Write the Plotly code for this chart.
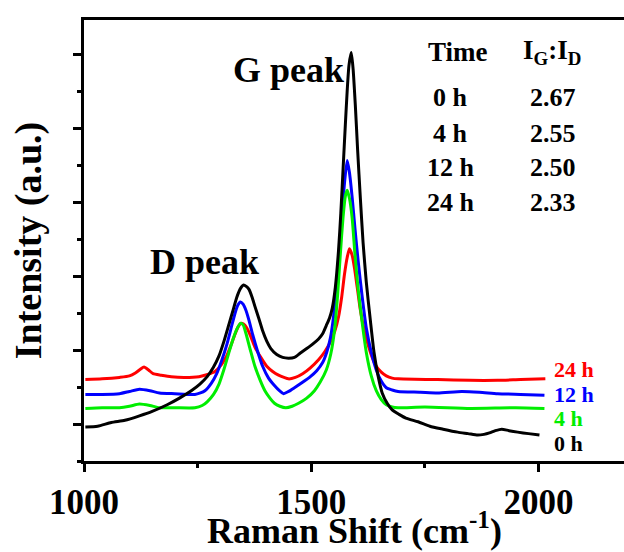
import plotly.graph_objects as go

# Raman shift (cm^-1) and intensity (a.u., arbitrary offset units)
x_0h = [1003, 1030, 1060, 1090, 1122, 1150, 1183, 1210, 1236, 1255, 1271, 1285, 1297, 1308, 1319, 1328, 1336, 1344, 1351,
        1357, 1363, 1370, 1376, 1385, 1393, 1402, 1411, 1424, 1437, 1450, 1463, 1476, 1490, 1503, 1516, 1525, 1533, 1540,
        1546, 1553, 1560, 1565, 1570, 1575, 1579, 1583, 1588, 1592, 1597, 1602, 1608, 1614, 1621, 1630, 1638, 1647, 1656,
        1667, 1678, 1693, 1708, 1735, 1761, 1790, 1822, 1845, 1866, 1880, 1892, 1905, 1919, 1935, 1954, 1978, 2002]
y_0h = [0.46, 0.47, 0.52, 0.55, 0.61, 0.67, 0.76, 0.85, 0.95, 1.04, 1.14, 1.27, 1.42, 1.62, 1.85, 2.04, 2.21, 2.33, 2.38,
        2.36, 2.32, 2.21, 2.09, 1.92, 1.76, 1.62, 1.52, 1.44, 1.40, 1.39, 1.40, 1.46, 1.52, 1.58, 1.65, 1.72, 1.83, 1.93,
        2.06, 2.35, 2.85, 3.35, 3.95, 4.55, 5.00, 5.35, 5.52, 5.30, 4.80, 4.20, 3.55, 2.95, 2.42, 1.90, 1.47, 1.15, 0.92,
        0.78, 0.69, 0.63, 0.58, 0.53, 0.47, 0.43, 0.39, 0.37, 0.35, 0.36, 0.38, 0.41, 0.43, 0.41, 0.39, 0.37, 0.35]

x_4h = [1003, 1040, 1078, 1100, 1122, 1145, 1166, 1200, 1244, 1260, 1271, 1285, 1297, 1308, 1319, 1328, 1336, 1344, 1350,
        1356, 1366, 1376, 1387, 1398, 1409, 1419, 1431, 1444, 1458, 1472, 1490, 1507, 1520, 1533, 1543, 1551, 1558, 1564,
        1570, 1575, 1579, 1584, 1590, 1596, 1603, 1612, 1621, 1632, 1643, 1654, 1665, 1678, 1691, 1750, 1850, 1950, 2013]
y_4h = [0.71, 0.72, 0.72, 0.74, 0.77, 0.75, 0.72, 0.72, 0.72, 0.75, 0.80, 0.90, 1.04, 1.24, 1.47, 1.65, 1.78, 1.86, 1.84,
        1.73, 1.50, 1.28, 1.10, 0.95, 0.85, 0.78, 0.74, 0.72, 0.74, 0.78, 0.85, 0.95, 1.07, 1.23, 1.45, 1.76, 2.25, 2.80,
        3.30, 3.58, 3.66, 3.55, 3.28, 2.80, 2.33, 1.87, 1.47, 1.15, 0.95, 0.83, 0.76, 0.73, 0.72, 0.73, 0.71, 0.72, 0.71]

x_12h = [1003, 1040, 1078, 1100, 1122, 1145, 1166, 1200, 1244, 1256, 1266, 1280, 1292, 1303, 1314, 1323, 1332, 1338, 1344,
         1350, 1356, 1363, 1371, 1382, 1393, 1406, 1419, 1430, 1439, 1450, 1463, 1480, 1498, 1512, 1525, 1534, 1542, 1549,
         1555, 1561, 1567, 1573, 1579, 1584, 1590, 1596, 1603, 1612, 1621, 1632, 1643, 1654, 1665, 1678, 1691, 1740, 1778,
         1831, 1870, 1910, 1960, 2013]
y_12h = [0.90, 0.90, 0.91, 0.94, 0.97, 0.95, 0.92, 0.91, 0.90, 0.92, 0.95, 1.05, 1.18, 1.36, 1.57, 1.78, 1.99, 2.10, 2.15,
         2.12, 2.04, 1.90, 1.71, 1.48, 1.28, 1.12, 1.02, 0.95, 0.91, 0.94, 0.99, 1.06, 1.14, 1.22, 1.33, 1.47, 1.66, 1.95,
         2.33, 2.80, 3.28, 3.75, 4.06, 3.90, 3.56, 3.15, 2.71, 2.22, 1.80, 1.47, 1.23, 1.08, 0.99, 0.96, 0.94, 0.93, 0.92,
         0.94, 0.93, 0.91, 0.90, 0.89]

x_24h = [1003, 1040, 1078, 1100, 1113, 1124, 1132, 1142, 1152, 1170, 1192, 1220, 1253, 1272, 1288, 1302, 1314, 1323, 1332,
         1339, 1345, 1351, 1358, 1367, 1376, 1389, 1402, 1415, 1428, 1440, 1450, 1465, 1481, 1498, 1516, 1530, 1542, 1552,
         1560, 1567, 1573, 1579, 1584, 1590, 1595, 1601, 1608, 1616, 1625, 1634, 1643, 1654, 1665, 1678, 1691, 1778, 1850,
         1910, 1960, 2015]
y_24h = [1.10, 1.11, 1.13, 1.15, 1.19, 1.24, 1.27, 1.23, 1.18, 1.16, 1.14, 1.13, 1.14, 1.17, 1.21, 1.30, 1.42, 1.56, 1.71,
         1.81, 1.86, 1.85, 1.80, 1.68, 1.54, 1.40, 1.28, 1.21, 1.16, 1.13, 1.11, 1.13, 1.18, 1.26, 1.37, 1.48, 1.61, 1.76,
         1.95, 2.22, 2.52, 2.75, 2.87, 2.78, 2.61, 2.35, 2.04, 1.78, 1.57, 1.40, 1.28, 1.20, 1.15, 1.12, 1.11, 1.10, 1.09,
         1.09, 1.10, 1.11]

series = [
    ("24 h", x_24h, y_24h, "#ff0000"),
    ("12 h", x_12h, y_12h, "#0000ff"),
    ("4 h", x_4h, y_4h, "#00ee00"),
    ("0 h", x_0h, y_0h, "#000000"),
]

times = ["0 h", "4 h", "12 h", "24 h"]
ratios = ["2.67", "2.55", "2.50", "2.33"]

x_ticks = [1000, 1500, 2000]
x_minor = [1250, 1750]
y_major = [0.5, 1.5, 2.5, 3.5, 4.5, 5.5]
y_minor = [0, 1, 2, 3, 4, 5]

FONT = "Liberation Serif, Times New Roman, serif"

fig = go.Figure()
for name, xs, ys, col in series:
    fig.add_trace(go.Scatter(x=xs, y=ys, mode="lines", name=name,
                             line=dict(color=col, width=3, shape="spline", smoothing=0.6)))

ann = []
# series labels at right
label_y = {"24 h": 1.23, "12 h": 0.905, "4 h": 0.57, "0 h": 0.24}
for name, xs, ys, col in series:
    ann.append(dict(x=2030, y=label_y[name], xref="x", yref="y", text="<b>%s</b>" % name,
                    showarrow=False, xanchor="left", yanchor="middle",
                    font=dict(family=FONT, size=22, color=col)))
# table
ann.append(dict(x=1823, y=5.53, xref="x", yref="y", text="<b>Time</b>", showarrow=False,
                font=dict(family=FONT, size=27, color="black")))
ann.append(dict(x=2030, y=5.53, xref="x", yref="y", text="<b>I<sub>G</sub>:I<sub>D</sub></b>", showarrow=False,
                font=dict(family=FONT, size=27, color="black")))
row_y = [4.91, 4.43, 3.96, 3.49]
for t, r, yy in zip(times, ratios, row_y):
    ann.append(dict(x=1807, y=yy, xref="x", yref="y", text="<b>%s</b>" % t, showarrow=False,
                    font=dict(family=FONT, size=26, color="black")))
    ann.append(dict(x=2032, y=yy, xref="x", yref="y", text="<b>%s</b>" % r, showarrow=False,
                    font=dict(family=FONT, size=26, color="black")))
ann.append(dict(x=1449, y=5.28, xref="x", yref="y", text="<b>G peak</b>", showarrow=False,
                font=dict(family=FONT, size=36, color="black")))
ann.append(dict(x=1266, y=2.69, xref="x", yref="y", text="<b>D peak</b>", showarrow=False,
                font=dict(family=FONT, size=36, color="black")))
# x-axis title
ann.append(dict(x=0.5, y=-0.152, xref="paper", yref="paper", text="<b>Raman Shift (cm<sup>-1</sup>)</b>",
                showarrow=False, xanchor="center", yanchor="middle",
                font=dict(family=FONT, size=36, color="black")))

fig.update_layout(
    width=624, height=552,
    margin=dict(l=84, r=0, t=20, b=91),
    paper_bgcolor="white", plot_bgcolor="white",
    showlegend=False,
    annotations=ann,
    font=dict(family=FONT, color="black"),
)
fig.update_xaxes(
    range=[1000, 2188], showgrid=False, zeroline=False, automargin=False,
    showline=True, linecolor="black", linewidth=3, mirror=True,
    tickvals=x_ticks, ticks="outside", ticklen=8, tickwidth=3, tickcolor="black",
    minor=dict(tickvals=x_minor, ticks="outside", ticklen=4, tickwidth=3, tickcolor="black"),
    tickfont=dict(family=FONT, size=35, color="black", weight="bold"),
)
fig.update_yaxes(
    range=[0, 5.96], showgrid=False, zeroline=False, automargin=False,
    showline=True, linecolor="black", linewidth=3, mirror=False,
    tickvals=y_major, ticks="outside", ticklen=8, tickwidth=3, tickcolor="black",
    minor=dict(tickvals=y_minor, ticks="outside", ticklen=4, tickwidth=3, tickcolor="black"),
    showticklabels=False,
    title=dict(text="<b>Intensity (a.u.)</b>", font=dict(family=FONT, size=38, color="black"), standoff=20),
)

fig.write_html("out.html")
